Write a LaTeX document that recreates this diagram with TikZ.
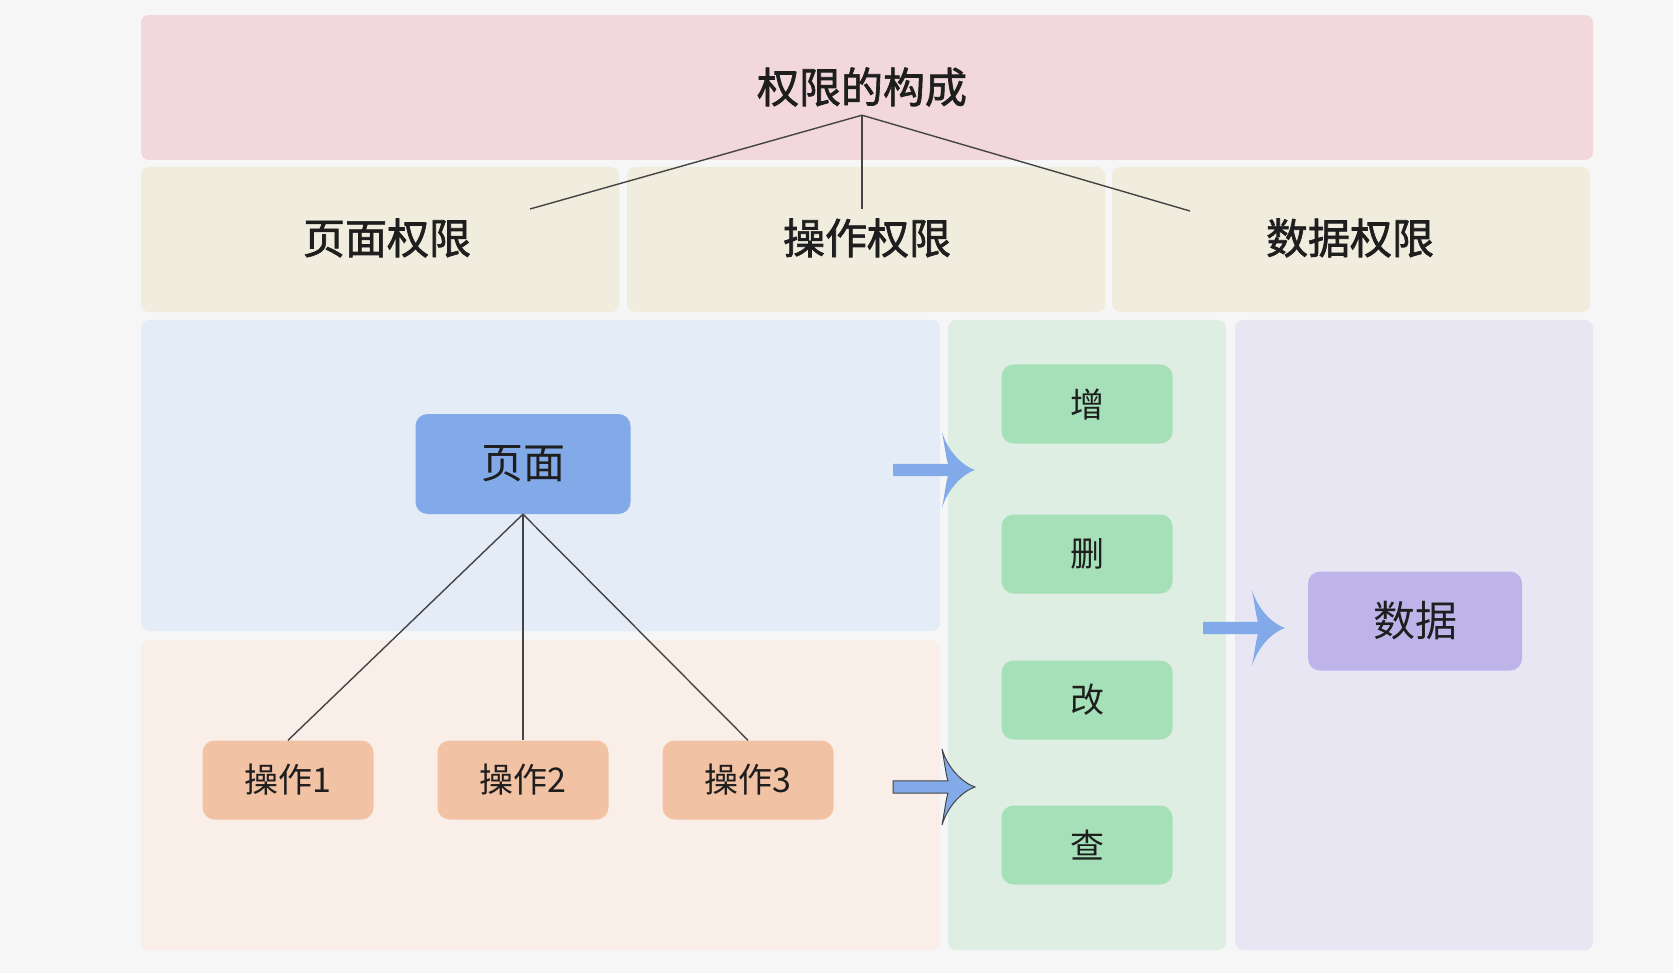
\documentclass[tikz,border=0pt]{standalone}
\usepackage{fontspec}
\setmainfont{Noto Sans CJK SC}
\newfontfamily\headfont[FakeBold=1.6]{Noto Sans CJK SC}
\definecolor{bgc}{HTML}{F6F6F6}
\definecolor{pinkc}{HTML}{F2D8DD}
\definecolor{beigec}{HTML}{F0EDDF}
\definecolor{bluec}{HTML}{E4ECF8}
\definecolor{peachc}{HTML}{FAEEE8}
\definecolor{greenc}{HTML}{DFEEE2}
\definecolor{lavc}{HTML}{E8E6F3}
\definecolor{pagec}{HTML}{82AAE9}
\definecolor{opc}{HTML}{F2C2A5}
\definecolor{crudc}{HTML}{A6E0B8}
\definecolor{datac}{HTML}{BEB4EA}
\definecolor{arrowc}{HTML}{82AAE9}
\definecolor{linec}{HTML}{444444}
\definecolor{txtc}{HTML}{1E1E1E}
\tikzset{
  region/.style={rounded corners=8pt},
  heading/.style={font=\headfont\fontsize{42}{50}\selectfont, text=txtc, inner sep=0pt},
  box/.style={rounded corners=12pt, text=txtc, inner sep=0pt},
  bigbox/.style={box, font=\fontsize{42}{50}\selectfont},
  smallbox/.style={box, font=\fontsize{34}{40}\selectfont, minimum width=171pt, minimum height=79pt},
  link/.style={draw=linec, line width=1.4pt},
  pics/fatarrow/.style={code={
    \path[pic actions] (0,0) .. controls (-12,-4) and (-27,-18) .. (-33,-38)
      .. controls (-30,-22) and (-29,-12) .. (-27,-6.2) -- (-#1,-6.2) -- (-#1,6.2) -- (-27,6.2)
      .. controls (-29,12) and (-30,22) .. (-33,38)
      .. controls (-27,18) and (-12,4) .. (0,0) -- cycle;
  }}
}
\begin{document}
\begin{tikzpicture}[x=1pt,y=-1pt]
\useasboundingbox[fill=bgc] (0,0) rectangle (1673,973);
% regions
\fill[region, pinkc] (141,15) rectangle (1593,160);
\fill[region, beigec] (141,167) rectangle (619,312);
\fill[region, beigec] (627,167) rectangle (1105,312);
\fill[region, beigec] (1112,167) rectangle (1590,312);
\fill[region, bluec] (141,320) rectangle (940,631);
\fill[region, peachc] (141,640) rectangle (940,950);
\fill[region, greenc] (948,320) rectangle (1226,950);
\fill[region, lavc] (1235,320) rectangle (1593,950);
% headings
\node[heading, minimum height=56pt] (root) at (862,87) {权限的构成};
\node[heading] (hpage) at (387,238) {页面权限};
\node[heading] (hop) at (867,238) {操作权限};
\node[heading] (hdata) at (1350,238) {数据权限};
\coordinate (c1) at (530,209);
\coordinate (c2) at (862,209);
\coordinate (c3) at (1190,211);
\draw[link] (root.south) -- (c1);
\draw[link] (root.south) -- (c2);
\draw[link] (root.south) -- (c3);
% page tree
\node[bigbox, fill=pagec, minimum width=215pt, minimum height=100pt] (page) at (523,464) {页面};
\node[smallbox, fill=opc] (op1) at (288,780) {操作1};
\node[smallbox, fill=opc] (op2) at (523,780) {操作2};
\node[smallbox, fill=opc] (op3) at (748,780) {操作3};
\draw[link] (page.south) -- (op1.north);
\draw[link] (page.south) -- (op2.north);
\draw[link] (page.south) -- (op3.north);
% crud
\node[smallbox, fill=crudc] (add) at (1087,404) {增};
\node[smallbox, fill=crudc] (del) at (1087,554) {删};
\node[smallbox, fill=crudc] (mod) at (1087,700) {改};
\node[smallbox, fill=crudc] (qry) at (1087,845) {查};
% data
\node[bigbox, fill=datac, minimum width=214pt, minimum height=99pt] (data) at (1415,621) {数据};
% arrows
\coordinate (a1) at (975,470);
\coordinate (a2) at (975,787);
\coordinate (a3) at (1285,628);
\pic[fill=arrowc] at (a1) {fatarrow=82};
\pic[fill=arrowc, draw=linec, line width=1pt] at (a2) {fatarrow=82};
\pic[fill=arrowc] at (a3) {fatarrow=82};
\end{tikzpicture}
\end{document}
